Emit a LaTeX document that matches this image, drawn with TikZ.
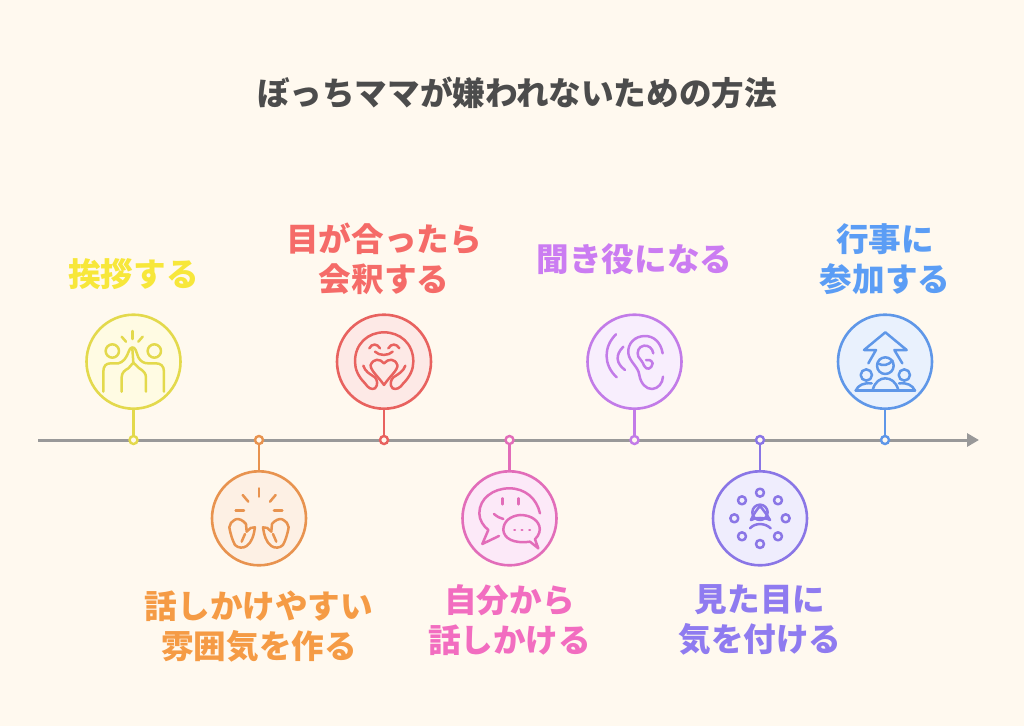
\documentclass[tikz,border=0pt]{standalone}
\usepackage{xcolor}
\usepackage{fontspec}
\newfontfamily\cjk{Noto Sans CJK JP}
\usetikzlibrary{arrows.meta}
\definecolor{paper}{HTML}{FFF9EF}
\definecolor{axisgrey}{HTML}{999999}
\definecolor{yline}{HTML}{E3D94C}
\definecolor{oline}{HTML}{E8934F}
\definecolor{rline}{HTML}{E8625F}
\definecolor{pline}{HTML}{E26DB9}
\definecolor{mline}{HTML}{C27BE8}
\definecolor{vline}{HTML}{8A76E6}
\definecolor{bline}{HTML}{5F97E8}
\definecolor{yfill}{HTML}{FFFBE3}
\definecolor{ofill}{HTML}{FDF0E4}
\definecolor{rfill}{HTML}{FDE9E6}
\definecolor{pfill}{HTML}{FCE9F8}
\definecolor{mfill}{HTML}{F8EEFD}
\definecolor{vfill}{HTML}{EFEDFD}
\definecolor{bfill}{HTML}{E9F1FD}
\definecolor{ytext}{HTML}{F7E73A}
\definecolor{otext}{HTML}{F59B45}
\definecolor{rtext}{HTML}{F56B68}
\definecolor{ptext}{HTML}{F26DC0}
\definecolor{mtext}{HTML}{CB7CF2}
\definecolor{vtext}{HTML}{8F7BF0}
\definecolor{btext}{HTML}{5B9DF5}
\tikzset{
  title/.style={font=\cjk\bfseries\fontsize{32.6}{40}\selectfont, text=black!70},
  label/.style={font=\cjk\bfseries\fontsize{32.6}{40}\selectfont, align=center, text=#1},
  spot/.style n args={2}{circle, draw=#1, fill=#2, line width=2.6pt, minimum size=94pt, inner sep=0pt},
  dot/.style={circle, draw=#1, fill=paper, line width=2.4pt, minimum size=8pt, inner sep=0pt},
  stem/.style={draw=#1, line width=2.8pt},
  icon/.style={draw=#1, line width=2.5pt, line cap=round, line join=round},
  crop/.style={x=0.3333pt, y=-0.3333pt}
}
\begin{document}
\begin{tikzpicture}[x=1pt, y=-1pt, >=stealth]
  \useasboundingbox[fill=paper] (0,0) rectangle (1024,726);

  \node[title] (heading) at (517,93) {ぼっちママが嫌われないための方法};

  % time line
  \coordinate (start) at (38,440);
  \coordinate (end) at (979,440);
  \draw[axisgrey, line width=3pt, -{Triangle[length=12pt,width=13pt]}] (start) -- (end);

  \node[dot=yline] (dotA) at (133.5,440) {};
  \node[dot=oline] (dotB) at (259,440) {};
  \node[dot=rline] (dotC) at (384,440) {};
  \node[dot=pline] (dotD) at (509.5,440) {};
  \node[dot=mline] (dotE) at (634.5,440) {};
  \node[dot=vline] (dotF) at (760,440) {};
  \node[dot=bline] (dotG) at (885,440) {};

  \node[spot={yline}{yfill}] (spotA) at (133.5,361.7) {};
  \node[spot={oline}{ofill}] (spotB) at (259,518.3) {};
  \node[spot={rline}{rfill}] (spotC) at (384,361.7) {};
  \node[spot={pline}{pfill}] (spotD) at (509.5,518.3) {};
  \node[spot={mline}{mfill}] (spotE) at (634.5,361.7) {};
  \node[spot={vline}{vfill}] (spotF) at (760,518.3) {};
  \node[spot={bline}{bfill}] (spotG) at (885,361.7) {};

  \draw[stem=yline] (dotA) -- (spotA);
  \draw[stem=oline] (dotB) -- (spotB);
  \draw[stem=rline] (dotC) -- (spotC);
  \draw[stem=pline] (dotD) -- (spotD);
  \draw[stem=mline] (dotE) -- (spotE);
  \draw[stem=vline] (dotF) -- (spotF);
  \draw[stem=bline] (dotG) -- (spotG);

  \node[label=ytext] (textA) at (133.5,274.5) {挨拶する};
  \node[label=otext] (textB) at (259,627) {話しかけやすい\\雰囲気を作る};
  \node[label=rtext] (textC) at (384,259) {目が合ったら\\会釈する};
  \node[label=ptext] (textD) at (509.5,620) {自分から\\話しかける};
  \node[label=mtext] (textE) at (634.5,259.5) {聞き役になる};
  \node[label=vtext] (textF) at (760,620) {見た目に\\気を付ける};
  \node[label=btext] (textG) at (885,259.5) {行事に\\参加する};

  % high five
  \begin{scope}[shift={(70,300)}, crop, icon=yline]
    \draw (127,153) circle (20);
    \draw (253,153) circle (20);
    \draw (187,93) -- (187,117);
    \draw (155,110) -- (168,125);
    \draw (218,110) -- (205,125);
    \draw (100,275) -- (100,215) .. controls (100,198) and (108,190) .. (122,190) -- (145,190) .. controls (160,187) and (170,172) .. (176,155) .. controls (180,140) and (192,138) .. (197,150) -- (205,172) .. controls (212,185) and (222,190) .. (235,190) -- (258,190) .. controls (272,190) and (282,198) .. (282,215) -- (282,275);
    \draw (155,275) -- (155,232) .. controls (155,218) and (165,210) .. (175,205) -- (190,188) -- (208,205) .. controls (220,212) and (228,220) .. (228,232) -- (228,275);
    \draw (187,145) -- (190,188);
  \end{scope}

  % gloves
  \begin{scope}[shift={(70,300)}, crop, icon=oline]
    \draw (567,565) -- (567,590);
    \draw (518,585) -- (535,605);
    \draw (617,585) -- (600,605);
    \draw (497,631) -- (522,631);
    \draw (612,631) -- (637,631);
    \draw (497,658) .. controls (485,665) and (478,672) .. (478,682) .. controls (482,705) and (488,722) .. (495,735) .. controls (505,745) and (520,745) .. (530,738) .. controls (545,728) and (552,705) .. (555,682) -- (542,684) -- (530,695) -- (528,672) .. controls (518,660) and (507,655) .. (497,658);
    \draw (525,702) -- (515,725);
    \draw (637,658) .. controls (649,665) and (656,672) .. (656,682) .. controls (652,705) and (646,722) .. (639,735) .. controls (629,745) and (614,745) .. (604,738) .. controls (589,728) and (582,705) .. (579,682) -- (592,684) -- (604,695) -- (606,672) .. controls (616,660) and (627,655) .. (637,658);
    \draw (609,702) -- (619,725);
  \end{scope}

  % smile and heart
  \begin{scope}[shift={(320,300)}, crop, icon=rline]
    \draw (135,250) .. controls (115,230) and (105,208) .. (105,185) .. controls (105,130) and (145,97) .. (192,97) .. controls (240,97) and (280,130) .. (280,185) .. controls (280,208) and (270,230) .. (250,250);
    \draw (148,145) .. controls (155,130) and (172,130) .. (180,145);
    \draw (205,145) .. controls (213,130) and (230,130) .. (238,145);
    \draw (165,155) .. controls (178,168) and (205,168) .. (218,155);
    \draw (192,190) .. controls (180,175) and (160,175) .. (152,195) .. controls (150,210) and (175,230) .. (192,255) .. controls (208,230) and (235,210) .. (232,195) .. controls (225,175) and (205,175) .. (192,190);
    \draw (130,197) .. controls (135,215) and (150,222) .. (165,232) .. controls (172,240) and (175,255) .. (165,265) .. controls (155,270) and (145,265) .. (135,250);
    \draw (256,197) .. controls (250,215) and (235,222) .. (220,232) .. controls (212,240) and (208,255) .. (218,265) .. controls (228,270) and (240,265) .. (250,250);
  \end{scope}

  % chat bubbles
  \begin{scope}[shift={(320,300)}, crop, icon=pline]
    \draw (660,640) .. controls (650,595) and (615,565) .. (568,565) .. controls (520,565) and (478,595) .. (478,640) .. controls (478,660) and (490,678) .. (505,690) -- (487,732) -- (537,708);
    \draw (548,595) -- (548,613);
    \draw (596,595) -- (596,613);
    \draw (522,642) .. controls (532,650) and (540,655) .. (550,657);
    \draw (630,725) -- (655,745) -- (645,718) .. controls (658,705) and (662,690) .. (658,678) .. controls (650,655) and (625,645) .. (600,645) .. controls (570,648) and (550,665) .. (550,690) .. controls (552,715) and (580,732) .. (630,725);
    \draw (583,690) -- (585,690);
    \draw (605,690) -- (607,690);
    \draw (628,690) -- (630,690);
  \end{scope}

  % ear
  \begin{scope}[shift={(570,300)}, crop, icon=mline]
    \draw (138,103) .. controls (100,140) and (100,195) .. (140,232);
    \draw (160,140) .. controls (135,165) and (138,190) .. (165,210);
    \draw (278,160) .. controls (272,125) and (250,108) .. (225,108) .. controls (195,108) and (172,130) .. (175,160) .. controls (178,185) and (205,200) .. (208,225) .. controls (212,250) and (228,268) .. (247,267) .. controls (265,265) and (278,250) .. (279,230);
    \draw (250,160) .. controls (248,145) and (235,135) .. (222,137) .. controls (205,140) and (200,155) .. (205,170) .. controls (212,180) and (218,185) .. (222,197) .. controls (230,212) and (245,208) .. (248,190) .. controls (245,180) and (235,178) .. (228,180);
  \end{scope}

  % ring of people
  \begin{scope}[shift={(570,300)}, crop, icon=vline]
    \draw (570,578) circle (12);
    \draw (624,601) circle (12);
    \draw (647,655) circle (12);
    \draw (624,709) circle (12);
    \draw (570,732) circle (12);
    \draw (516,709) circle (12);
    \draw (493,655) circle (12);
    \draw (516,601) circle (12);
    \draw (570,637) circle (23);
    \draw (543,660) .. controls (552,640) and (560,630) .. (570,618) .. controls (580,630) and (588,640) .. (600,660);
    \draw (543,660) .. controls (555,652) and (585,652) .. (600,660);
    \draw (540,685) .. controls (555,668) and (585,668) .. (602,685);
  \end{scope}

  % people and arrow
  \begin{scope}[shift={(800,300)}, crop, icon=bline]
    \draw (205,190) -- (228,150) -- (192,150) -- (256,97) -- (320,150) -- (283,150) -- (307,190);
    \draw (256,197) circle (25);
    \draw (233,190) .. controls (250,200) and (265,195) .. (278,182);
    \draw (199,225) circle (17);
    \draw (313,225) circle (17);
    \draw (167,272) -- (345,272);
    \draw (218,270) .. controls (225,245) and (240,235) .. (256,235) .. controls (272,235) and (288,245) .. (295,270);
    \draw (167,272) .. controls (175,255) and (190,248) .. (215,250);
    \draw (345,272) .. controls (337,255) and (322,248) .. (297,250);
  \end{scope}
\end{tikzpicture}
\end{document}
